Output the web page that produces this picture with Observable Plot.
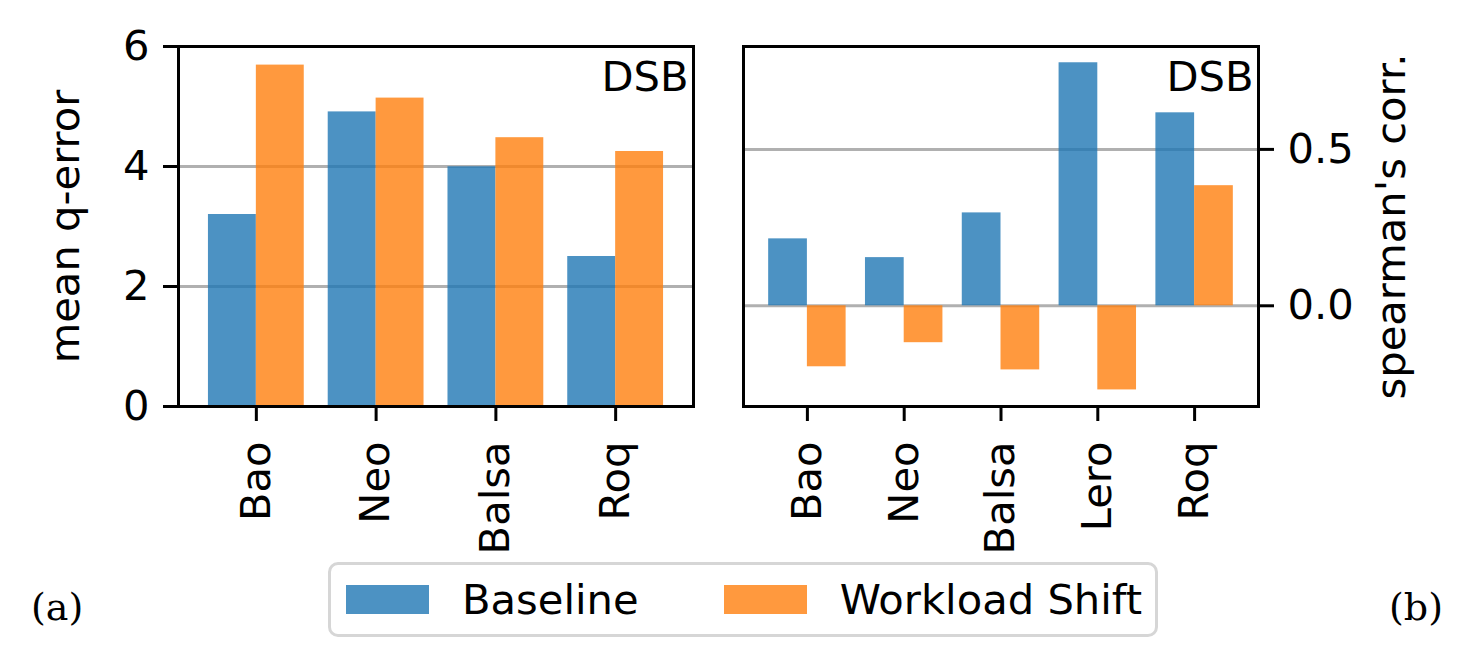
<!DOCTYPE html>
<html><head><meta charset="utf-8">
<script src="https://cdn.jsdelivr.net/npm/d3@7"></script>
<script src="https://cdn.jsdelivr.net/npm/@observablehq/plot@0.6"></script>
<style>
body{margin:0;background:#fff;}
#fig{position:relative;width:1477px;height:667px;overflow:hidden;background:#fff;font-family:"DejaVu Sans",sans-serif;}
.panel{position:absolute;top:0;}
#legend{position:absolute;left:328px;top:562px;width:830px;height:75px;box-sizing:border-box;border:3px solid #d6d6d6;border-radius:10px;display:flex;align-items:center;padding-left:15px;font-size:41.67px;color:#000;white-space:nowrap;}
#legend .sw{width:83px;height:29px;opacity:0.8;flex:0 0 auto;}
#legend .lab{margin-left:33px;margin-right:85px;line-height:1;flex:0 0 auto;}
.tag{position:absolute;font-family:"DejaVu Serif",serif;font-size:38px;color:#000;line-height:1;}
</style>
</head><body>
<div id="fig">
  <div id="left" class="panel" style="left:0px"></div>
  <div id="right" class="panel" style="left:700px"></div>
  <div id="legend"></div>
  <div class="tag" style="left:31px;top:588px">(a)</div>
  <div class="tag" style="left:1389px;top:588px">(b)</div>
</div>
<script>
const leftCategories = ["Bao", "Neo", "Balsa", "Roq"];
const leftBaseline = [3.20, 4.91, 3.995, 2.50];
const leftShift = [5.69, 5.14, 4.48, 4.25];
const rightCategories = ["Bao", "Neo", "Balsa", "Lero", "Roq"];
const rightBaseline = [0.214, 0.154, 0.297, 0.777, 0.617];
const rightShift = [-0.195, -0.118, -0.205, -0.269, 0.384];
const seriesNames = ["Baseline", "Workload Shift"];
const seriesColors = ["#1f77b4", "#ff7f0e"];
const leftTicks = [0, 2, 4, 6];
const leftGrid = [2, 4];
const rightTicks = [0, 0.5];
const leftLabel = "mean q-error";
const rightLabel = "spearman's corr.";
const panelTag = "DSB";

function rows(cats, base, shift) {
  const out = [];
  cats.forEach((c, i) => {
    out.push({i, cat: c, series: seriesNames[0], s: 0, value: base[i]});
    out.push({i, cat: c, series: seriesNames[1], s: 1, value: shift[i]});
  });
  return out;
}
const W = 0.4;
const FS = 41.67;
const color = {type: "ordinal", domain: seriesNames, range: seriesColors};
const style = {fontSize: FS + "px", fontFamily: "DejaVu Sans", background: "transparent", overflow: "visible"};

const leftData = rows(leftCategories, leftBaseline, leftShift);
const leftPlot = Plot.plot({
  width: 740, height: 570,
  marginLeft: 178, marginRight: 47, marginTop: 46, marginBottom: 164,
  style,
  x: {type: "linear", domain: [-0.65, leftCategories.length - 1 + 0.65]},
  y: {domain: [0, 6]},
  color,
  marks: [
    Plot.ruleY(leftGrid, {stroke: "#b0b0b0", strokeWidth: 3}),
    Plot.rect(leftData, {x1: d => d.i - W + d.s * W, x2: d => d.i + d.s * W, y1: 0, y2: "value", fill: "series", fillOpacity: 0.8}),
    Plot.frame({stroke: "#000", strokeWidth: 3}),
    Plot.axisY({ticks: leftTicks, tickSize: 15, tickPadding: 14, strokeWidth: 3, label: null, tickFormat: d3.format("d")}),
    Plot.axisX({ticks: d3.range(leftCategories.length), tickFormat: i => leftCategories[i], tickSize: 15, tickPadding: 20, tickRotate: -90, strokeWidth: 3, label: null}),
    Plot.text([leftLabel], {frameAnchor: "left", dx: -113, rotate: -90, textAnchor: "middle", fontSize: FS}),
    Plot.text([panelTag], {frameAnchor: "top-right", dx: -5, dy: 15, textAnchor: "end", lineAnchor: "top", fontSize: FS})
  ]
});
document.getElementById("left").appendChild(leftPlot);

const rightData = rows(rightCategories, rightBaseline, rightShift);
const rightPlot = Plot.plot({
  width: 777, height: 570,
  marginLeft: 43, marginRight: 219, marginTop: 46, marginBottom: 164,
  style,
  x: {type: "linear", domain: [-0.66, rightCategories.length - 1 + 0.66]},
  y: {domain: [-0.322, 0.829]},
  color,
  marks: [
    Plot.ruleY(rightTicks, {stroke: "#b0b0b0", strokeWidth: 3}),
    Plot.rect(rightData, {x1: d => d.i - W + d.s * W, x2: d => d.i + d.s * W, y1: 0, y2: "value", fill: "series", fillOpacity: 0.8}),
    Plot.frame({stroke: "#000", strokeWidth: 3}),
    Plot.axisY({anchor: "right", ticks: rightTicks, tickSize: 15, tickPadding: 14, strokeWidth: 3, label: null, tickFormat: d3.format(".1f")}),
    Plot.axisX({ticks: d3.range(rightCategories.length), tickFormat: i => rightCategories[i], tickSize: 15, tickPadding: 20, tickRotate: -90, strokeWidth: 3, label: null}),
    Plot.text([rightLabel], {frameAnchor: "right", dx: 133, rotate: -90, textAnchor: "middle", fontSize: FS}),
    Plot.text([panelTag], {frameAnchor: "top-right", dx: -5, dy: 15, textAnchor: "end", lineAnchor: "top", fontSize: FS})
  ]
});
document.getElementById("right").appendChild(rightPlot);

const legend = document.getElementById("legend");
seriesNames.forEach((name, k) => {
  const sw = document.createElement("div");
  sw.className = "sw";
  sw.style.background = seriesColors[k];
  const lab = document.createElement("span");
  lab.className = "lab";
  lab.textContent = name;
  legend.appendChild(sw);
  legend.appendChild(lab);
});
</script>
</body></html>
